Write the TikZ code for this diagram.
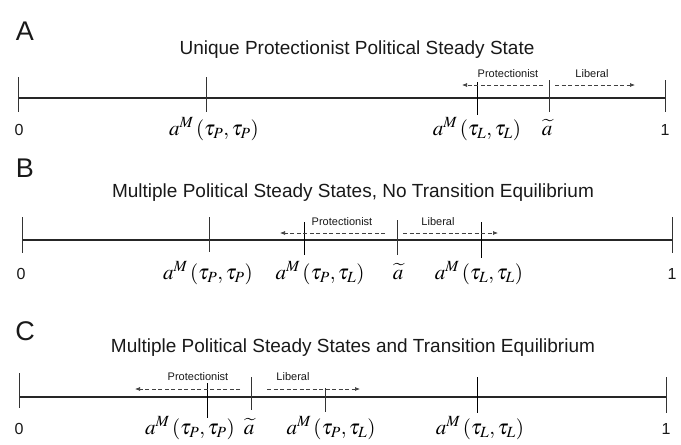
\documentclass[tikz,border=0pt]{standalone}
\usepackage{mathptmx}
\usepackage{fontspec}
\setmainfont{Liberation Sans}
\usetikzlibrary{arrows.meta}

\begin{document}
\begin{tikzpicture}[x=1pt, y=-1pt,
	axisline/.style={line width=1.8pt, black!85},
	tickline/.style={line width=0.8pt, black!80},
	flow/.style={line width=0.7pt, black!75, dash pattern=on 4pt off 2.5pt, -{Latex[length=5pt, width=4pt]}},
	panelname/.style={font=\fontsize{27}{27}\selectfont, text=black!90},
	heading/.style={font=\fontsize{19}{19}\selectfont, text=black!90},
	sidename/.style={font=\fontsize{11}{11}\selectfont, text=black!90, inner sep=1pt},
	endname/.style={font=\fontsize{16}{16}\selectfont, anchor=base, text=black!90},
	mathname/.style={font=\fontsize{21}{21}\selectfont, anchor=base, inner sep=0pt}]
	\useasboundingbox (0,0) rectangle (681,445);
	% Panel A:
	\node[panelname] (letterA) at (25,31) {A};
	\node[heading] (titleA) at (357,50) {Unique Protectionist Political Steady State};
	\coordinate (A0) at (18,98);
	\coordinate (A1) at (665,98);
	\draw[axisline] (A0) -- (A1);
	\coordinate (A0t) at (18,77); \coordinate (A0b) at (18,112);
	\coordinate (APPt) at (206,77); \coordinate (APPb) at (206,112);
	\coordinate (ALLt) at (477,82); \coordinate (ALLb) at (477,115);
	\coordinate (Atilt) at (549,80); \coordinate (Atilb) at (549,112);
	\coordinate (A1t) at (665,80); \coordinate (A1b) at (665,112);
	\draw[tickline] (A0t) -- (A0b);
	\draw[tickline] (APPt) -- (APPb);
	\draw[tickline, black] (ALLt) -- (ALLb);
	\draw[tickline] (Atilt) -- (Atilb);
	\draw[tickline] (A1t) -- (A1b);
	\coordinate (AprS) at (543,85); \coordinate (AprE) at (462,85);
	\coordinate (AlbS) at (555,85); \coordinate (AlbE) at (635,85);
	\draw[flow] (AprS) -- (AprE);
	\draw[flow] (AlbS) -- (AlbE);
	\node[sidename] (protA) at (508,74) {Protectionist};
	\node[sidename] (libA) at (592,74) {Liberal};
	\node[endname] (zeroA) at (19,135) {0};
	\node[endname] (oneA) at (665,135) {1};
	\node[mathname] (aPPA) at (214,135) {$a^{M}\,(\tau_{P},\tau_{P})$};
	\node[mathname] (aLLA) at (477,135) {$a^{M}\,(\tau_{L},\tau_{L})$};
	\node[mathname] (atilA) at (547,135) {$\widetilde{a}$};
	% Panel B:
	\node[panelname] (letterB) at (25,168) {B};
	\node[heading] (titleB) at (353,193) {Multiple Political Steady States, No Transition Equilibrium};
	\coordinate (B0) at (22,240);
	\coordinate (B1) at (672,240);
	\draw[axisline] (B0) -- (B1);
	\coordinate (B0t) at (22,217); \coordinate (B0b) at (22,253);
	\coordinate (BPPt) at (209,217); \coordinate (BPPb) at (209,252);
	\coordinate (BPLt) at (304,222); \coordinate (BPLb) at (304,255);
	\coordinate (Btilt) at (397,220); \coordinate (Btilb) at (397,255);
	\coordinate (BLLt) at (481,222); \coordinate (BLLb) at (481,258);
	\coordinate (B1t) at (672,217); \coordinate (B1b) at (672,253);
	\draw[tickline] (B0t) -- (B0b);
	\draw[tickline] (BPPt) -- (BPPb);
	\draw[tickline, black] (BPLt) -- (BPLb);
	\draw[tickline] (Btilt) -- (Btilb);
	\draw[tickline, black] (BLLt) -- (BLLb);
	\draw[tickline] (B1t) -- (B1b);
	\coordinate (BprS) at (385,233); \coordinate (BprE) at (280,233);
	\coordinate (BlbS) at (403,233); \coordinate (BlbE) at (498,233);
	\draw[flow] (BprS) -- (BprE);
	\draw[flow] (BlbS) -- (BlbE);
	\node[sidename] (protB) at (342,222) {Protectionist};
	\node[sidename] (libB) at (438,222) {Liberal};
	\node[endname] (zeroB) at (21,279) {0};
	\node[endname] (oneB) at (672,279) {1};
	\node[mathname] (aPPB) at (208,279) {$a^{M}\,(\tau_{P},\tau_{P})$};
	\node[mathname] (aPLB) at (320,279) {$a^{M}\,(\tau_{P},\tau_{L})$};
	\node[mathname] (atilB) at (398,279) {$\widetilde{a}$};
	\node[mathname] (aLLB) at (479,279) {$a^{M}\,(\tau_{L},\tau_{L})$};
	% Panel C:
	\node[panelname] (letterC) at (25,331) {C};
	\node[heading] (titleC) at (353,348) {Multiple Political Steady States and Transition Equilibrium};
	\coordinate (C0) at (19,397);
	\coordinate (C1) at (666,397);
	\draw[axisline] (C0) -- (C1);
	\coordinate (C0t) at (19,373); \coordinate (C0b) at (19,408);
	\coordinate (CPPt) at (207,383); \coordinate (CPPb) at (207,418);
	\coordinate (Ctilt) at (251,377); \coordinate (Ctilb) at (251,410);
	\coordinate (CPLt) at (325,388); \coordinate (CPLb) at (325,412);
	\coordinate (CLLt) at (477,377); \coordinate (CLLb) at (477,413);
	\coordinate (C1t) at (666,377); \coordinate (C1b) at (666,413);
	\draw[tickline] (C0t) -- (C0b);
	\draw[tickline, black] (CPPt) -- (CPPb);
	\draw[tickline] (Ctilt) -- (Ctilb);
	\draw[tickline] (CPLt) -- (CPLb);
	\draw[tickline, black] (CLLt) -- (CLLb);
	\draw[tickline] (C1t) -- (C1b);
	\coordinate (CprS) at (240,389); \coordinate (CprE) at (135,389);
	\coordinate (ClbS) at (267,389); \coordinate (ClbE) at (360,389);
	\draw[flow] (CprS) -- (CprE);
	\draw[flow] (ClbS) -- (ClbE);
	\node[sidename] (protC) at (198,377) {Protectionist};
	\node[sidename] (libC) at (293,377) {Liberal};
	\node[endname] (zeroC) at (19,434) {0};
	\node[endname] (oneC) at (666,434) {1};
	\node[mathname] (aPPC) at (190,434) {$a^{M}\,(\tau_{P},\tau_{P})$};
	\node[mathname] (atilC) at (249,434) {$\widetilde{a}$};
	\node[mathname] (aPLC) at (331,434) {$a^{M}\,(\tau_{P},\tau_{L})$};
	\node[mathname] (aLLC) at (480,434) {$a^{M}\,(\tau_{L},\tau_{L})$};
\end{tikzpicture}
\end{document}
